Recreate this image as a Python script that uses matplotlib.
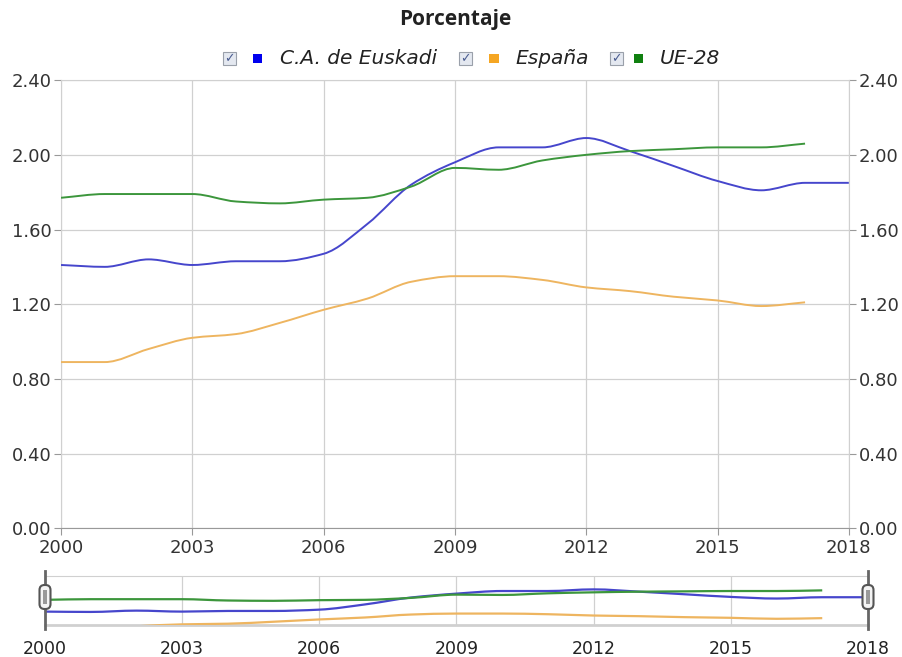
import numpy as np
import matplotlib.pyplot as plt
from matplotlib.path import Path
from matplotlib.patches import PathPatch, FancyBboxPatch, Rectangle

# Data
years_eus = [2000, 2001, 2002, 2003, 2004, 2005, 2006, 2007, 2008, 2009,
             2010, 2011, 2012, 2013, 2014, 2015, 2016, 2017, 2018]
euskadi = [1.41, 1.40, 1.44, 1.41, 1.43, 1.43, 1.47, 1.63, 1.84, 1.96,
           2.04, 2.04, 2.09, 2.02, 1.94, 1.86, 1.81, 1.85, 1.85]

years = [2000, 2001, 2002, 2003, 2004, 2005, 2006, 2007, 2008, 2009,
         2010, 2011, 2012, 2013, 2014, 2015, 2016, 2017]
espana = [0.89, 0.89, 0.96, 1.02, 1.04, 1.10, 1.17, 1.23, 1.32, 1.35,
          1.35, 1.33, 1.29, 1.27, 1.24, 1.22, 1.19, 1.21]
ue28 = [1.77, 1.79, 1.79, 1.79, 1.75, 1.74, 1.76, 1.77, 1.83, 1.93,
        1.92, 1.97, 2.00, 2.02, 2.03, 2.04, 2.04, 2.06]

series = [
    ("C.A. de Euskadi", years_eus, euskadi, "#4646cc", "#0000ee"),
    ("España", years, espana, "#eeb560", "#f5a623"),
    ("UE-28", years, ue28, "#3c963c", "#108010"),
]

x_ticks = [2000, 2003, 2006, 2009, 2012, 2015, 2018]
y_ticks = [0.0, 0.4, 0.8, 1.2, 1.6, 2.0, 2.4]


def smooth_path(x, y):
    # monotone cubic bezier through the data points
    x = np.asarray(x, float)
    y = np.asarray(y, float)
    h = np.diff(x)
    d = np.diff(y) / h
    m = np.zeros_like(y)
    m[0], m[-1] = d[0], d[-1]
    for i in range(1, len(y) - 1):
        if d[i - 1] * d[i] <= 0:
            m[i] = 0.0
        else:
            m[i] = 2.0 / (1.0 / d[i - 1] + 1.0 / d[i])
    verts = [(x[0], y[0])]
    codes = [Path.MOVETO]
    for i in range(len(x) - 1):
        verts += [(x[i] + h[i] / 3, y[i] + m[i] * h[i] / 3),
                  (x[i + 1] - h[i] / 3, y[i + 1] - m[i + 1] * h[i] / 3),
                  (x[i + 1], y[i + 1])]
        codes += [Path.CURVE4] * 3
    return Path(verts, codes)


fig = plt.figure(figsize=(9.03, 6.57), dpi=100)
ax = fig.add_axes([0.0676, 0.196, 0.8724, 0.682])
nav = fig.add_axes([0.0498, 0.0487, 0.9114, 0.0746])

grid_c = "#d0d0d0"
txt_c = "#333333"

# main chart
for name, xs, ys, c, _ in series:
    ax.add_patch(PathPatch(smooth_path(xs, ys), fill=False, edgecolor=c,
                           lw=1.4, zorder=3))
ax.set_xlim(2000, 2018)
ax.set_ylim(0, 2.4)
ax.set_xticks(x_ticks)
ax.set_yticks(y_ticks)
ax.set_yticklabels([f"{v:.2f}" for v in y_ticks])
ax.grid(True, color=grid_c, lw=0.9)
ax.set_axisbelow(True)
ax.tick_params(axis="y", left=True, right=True, labelleft=True,
               labelright=True, length=5, color="#999999", labelsize=13,
               labelcolor=txt_c, pad=2)
ax.tick_params(axis="x", length=5, color="#999999", labelsize=13,
               labelcolor=txt_c, pad=3)
for s in ["left", "right", "top"]:
    ax.spines[s].set_color(grid_c)
ax.spines["bottom"].set_color("#999999")

# title and legend
fig.text(0.504, 0.970, "Porcentaje", ha="center", va="center",
         fontsize=15, fontweight="bold", color="#222222",
         family="Open Sans")

legend_x = [(0.254, 0.285, 0.310), (0.515, 0.547, 0.571), (0.683, 0.707, 0.731)]
ly = 0.911
for (cx, sx, tx), (name, _, _, _, lc) in zip(legend_x, series):
    fig.patches.append(Rectangle((cx - 0.0072, ly - 0.0095), 0.0144, 0.019,
                                 transform=fig.transFigure, facecolor="#e4e8f0",
                                 edgecolor="#9aa0aa", lw=0.8))
    fig.text(cx, ly - 0.001, "\u2713", ha="center", va="center", fontsize=9,
             color="#4a5c90", fontweight="bold")
    fig.patches.append(Rectangle((sx - 0.0053, ly - 0.0072), 0.0106, 0.0144,
                                 transform=fig.transFigure, facecolor=lc,
                                 edgecolor="none"))
    fig.text(tx, ly, name, ha="left", va="center", fontsize=14.5,
             style="italic", color="#222222")

# navigator
for name, xs, ys, c, _ in series:
    nav.add_patch(PathPatch(smooth_path(xs, ys), fill=False, edgecolor=c,
                            lw=1.6, zorder=3))
nav.set_xlim(2000, 2018)
nav.set_ylim(1.0, 2.5)
nav.set_xticks(x_ticks)
nav.set_yticks([])
nav.grid(True, axis="x", color=grid_c, lw=0.9)
nav.tick_params(axis="x", length=0, labelsize=12.5, labelcolor="#222222", pad=11)
for s in ["left", "right"]:
    nav.spines[s].set_visible(False)
nav.spines["top"].set_color(grid_c)
nav.spines["bottom"].set_color(grid_c)
nav.spines["bottom"].set_linewidth(2)

for xv in (2000, 2018):
    nav.axvline(xv, ymin=-0.08, ymax=1.1, color="#666666", lw=2,
                clip_on=False, zorder=5)
for xin in (0.45, 8.68):
    fig.patches.append(FancyBboxPatch((xin - 0.055, 0.48), 0.11, 0.24,
                                      boxstyle="round,pad=0,rounding_size=0.05",
                                      transform=fig.dpi_scale_trans,
                                      facecolor="#f4f4f4", edgecolor="#555555",
                                      lw=1.5, zorder=6))
    fig.patches.append(Rectangle((xin - 0.02, 0.53), 0.04, 0.14,
                                 transform=fig.dpi_scale_trans,
                                 facecolor="#999999", edgecolor="none",
                                 zorder=7))

plt.savefig("out.png", dpi=100)
plt.close()
